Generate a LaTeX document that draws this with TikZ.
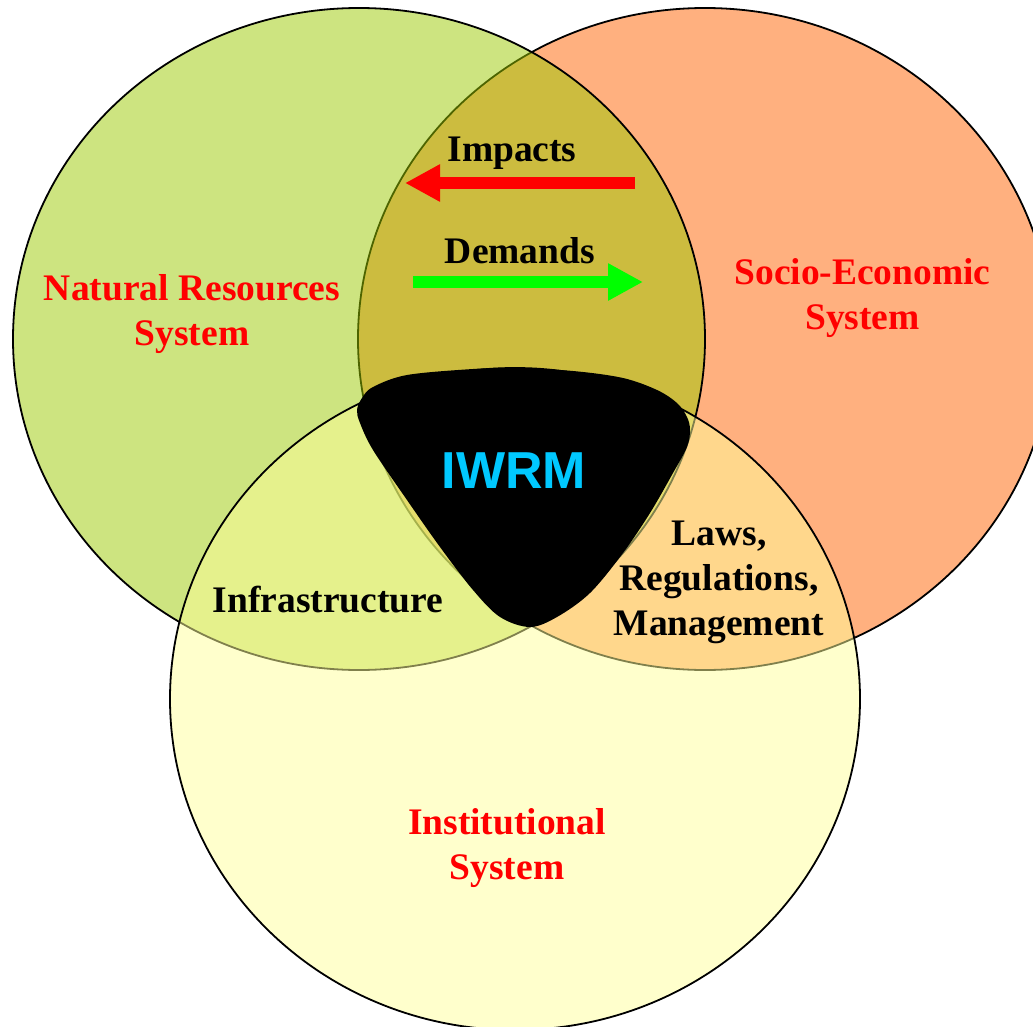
\documentclass[tikz,border=0pt]{standalone}
\usepackage{fontspec}
\setmainfont{Liberation Serif}
\newfontfamily\coresans{Liberation Sans}
\usetikzlibrary{arrows.meta}
\definecolor{naturegreen}{HTML}{9BC901}
\definecolor{socioorange}{HTML}{FFB07F}
\definecolor{institutyellow}{HTML}{FFFF99}
\definecolor{iwrmcyan}{HTML}{00C8FF}

\begin{document}
\begin{tikzpicture}[x=1pt, y=-1pt,
  system/.style={line width=1.8pt},
  sysname/.style={font=\fontsize{37.5}{45}\selectfont\bfseries, text=red, align=center, inner sep=0pt},
  linkname/.style={font=\fontsize{37.5}{45}\selectfont\bfseries, align=center, inner sep=0pt},
  flow/.style={line width=12pt, -{Triangle[length=35pt, width=35pt]}}]
  \useasboundingbox (0,0) rectangle (1033,1027);
  \clip (0,0) rectangle (1033,1027);

  % the three systems, green and yellow laid over half transparent
  \draw[system, fill=socioorange] (705,339) ellipse [x radius=347, y radius=331];
  \draw[system, fill=naturegreen, fill opacity=0.5] (359,339) ellipse [x radius=346, y radius=331];
  \draw[system, fill=institutyellow, fill opacity=0.5] (515,699) ellipse [x radius=345, y radius=331];

  % common core
  \fill plot[smooth cycle, tension=0.55] coordinates {
    (362,398) (373,387) (407,375) (473,369) (513,368) (573,371) (623,378)
    (657,390) (677,403) (687,417) (690,430) (687,447) (673,473) (650,513)
    (623,553) (590,593) (557,617) (530,627) (500,617) (473,590) (440,547)
    (407,500) (373,450) (360,423) (357,410)};
  \node[anchor=base, font=\coresans\fontsize{52}{60}\selectfont\bfseries, text=iwrmcyan, inner sep=0pt] (iwrm) at (514,488) {IWRM};

  \node[sysname] (natural) at (192,313.6) {Natural Resources\\System};
  \node[sysname] (socio) at (862.5,298.5) {Socio-Economic\\System};
  \node[sysname] (institutional) at (507,848.5) {Institutional\\System};

  \node[linkname, anchor=base] (impacts) at (512,162) {Impacts};
  \node[linkname, anchor=base] (demands) at (520,263) {Demands};
  \node[linkname, anchor=base] (infra) at (328,612) {Infrastructure};
  \node[linkname] (laws) at (719,582) {Laws,\\Regulations,\\Management};

  \coordinate (impactsFrom) at (635,183);
  \coordinate (impactsTo) at (405,183);
  \coordinate (demandsFrom) at (413,282);
  \coordinate (demandsTo) at (643,282);
  \draw[flow, red] (impactsFrom) -- (impactsTo);
  \draw[flow, green] (demandsFrom) -- (demandsTo);
\end{tikzpicture}
\end{document}
